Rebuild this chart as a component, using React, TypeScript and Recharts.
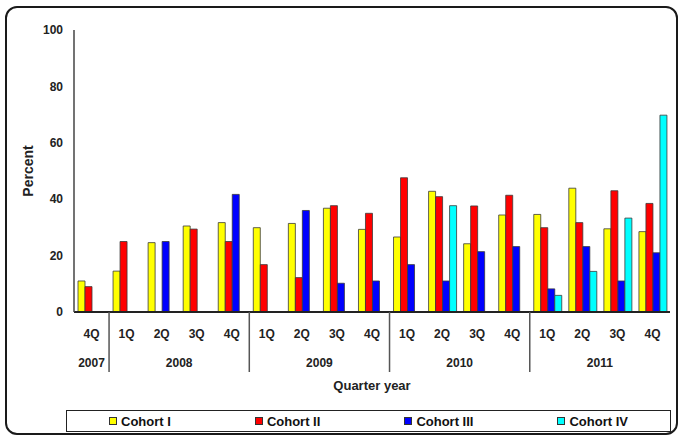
import React from 'react';
import { BarChart, Bar, XAxis, YAxis } from 'recharts';

// quarter / year of each category, left to right
const quarters = ['4Q', '1Q', '2Q', '3Q', '4Q', '1Q', '2Q', '3Q', '4Q', '1Q', '2Q', '3Q', '4Q', '1Q', '2Q', '3Q', '4Q'];
const categoryYears = ['2007', '2008', '2008', '2008', '2008', '2009', '2009', '2009', '2009', '2010', '2010', '2010', '2010', '2011', '2011', '2011', '2011'];

// percent per cohort (null = no bar)
const cohortI = [11, 14.5, 24.6, 30.5, 31.7, 29.9, 31.4, 36.8, 29.3, 26.6, 42.8, 24.2, 34.4, 34.6, 43.9, 29.5, 28.5];
const cohortII = [9, 25, null, 29.4, 25, 16.8, 12.2, 37.7, 35, 47.6, 40.9, 37.6, 41.4, 29.9, 31.7, 43, 38.5];
const cohortIII = [null, null, 25, null, 41.7, null, 36, 10.2, 11, 16.8, 11, 21.4, 23.2, 8.2, 23.2, 11, 21];
const cohortIV = [null, null, null, null, null, null, null, null, null, null, 37.7, null, null, 5.9, 14.4, 33.3, 69.8];

const yTicks = [0, 20, 40, 60, 80, 100];

const series = [
  { key: 'c1', name: 'Cohort I', color: '#FFFF00', values: cohortI },
  { key: 'c2', name: 'Cohort II', color: '#FF0000', values: cohortII },
  { key: 'c3', name: 'Cohort III', color: '#0000FF', values: cohortIII },
  { key: 'c4', name: 'Cohort IV', color: '#00FFFF', values: cohortIV },
];

const data = quarters.map((q, i) => {
  const row: any = { id: `${q} ${categoryYears[i]}` };
  series.forEach(s => { row[s.key] = s.values[i]; });
  return row;
});

const W = 678;
const H = 437;
const MARGIN = { top: 30, right: 8, left: 10, bottom: 45 };
const Y_AXIS_W = 64;
const BAND = (W - MARGIN.left - MARGIN.right - Y_AXIS_W) / quarters.length;
const FONT = '"Liberation Sans", Arial, sans-serif';

const QuarterTick = (props: any) => {
  const { x, y, payload } = props;
  const i = payload?.index ?? props.index;
  const year = categoryYears[i];
  const first = categoryYears.indexOf(year);
  const last = categoryYears.lastIndexOf(year);
  const mid = (first + last) / 2;
  const axisY = y - 8;
  return (
    <g>
      <text x={x} y={axisY + 26} textAnchor="middle" fontSize={12} fontWeight="bold" fill="#222">
        {quarters[i]}
      </text>
      {i === Math.floor(mid) && (
        <text x={x + (mid - i) * BAND} y={axisY + 55} textAnchor="middle" fontSize={12} fontWeight="bold" fill="#222">
          {year}
        </text>
      )}
      {i === first && i > 0 && (
        <line x1={x - BAND / 2} x2={x - BAND / 2} y1={axisY} y2={axisY + 60} stroke="#555" strokeWidth={1.5} />
      )}
    </g>
  );
};

export default function App() {
  return (
    <div style={{ position: 'absolute', left: 0, top: 0, width: W, height: H, background: '#fff', fontFamily: FONT }}>
      <div
        style={{
          position: 'absolute', left: 5, top: 6, width: 673, height: 429, boxSizing: 'border-box',
          border: '2px solid #1a1a1a', borderRadius: 12,
        }}
      />
      <div style={{ position: 'absolute', left: 0, top: 0 }}>
        <BarChart width={W} height={H} data={data} margin={MARGIN} barGap={0} barSize={7} style={{ fontFamily: FONT }}>
          <XAxis
            dataKey="id"
            interval={0}
            height={80}
            tickLine={false}
            axisLine={{ stroke: '#222', strokeWidth: 2 }}
            tick={<QuarterTick />}
            label={{ value: 'Quarter year', position: 'insideBottom', offset: 2, fill: '#222', fontSize: 13, fontWeight: 'bold' }}
          />
          <YAxis
            domain={[0, 100]}
            ticks={yTicks}
            width={Y_AXIS_W}
            tickLine={false}
            tickMargin={5}
            axisLine={{ stroke: '#444', strokeWidth: 1.5 }}
            tick={{ fill: '#222', fontSize: 12, fontWeight: 'bold' }}
            label={{ value: 'Percent', angle: -90, position: 'insideLeft', offset: 18, fill: '#222', fontSize: 14, fontWeight: 'bold', style: { textAnchor: 'middle' } }}
          />
          {series.map(s => (
            <Bar key={s.key} dataKey={s.key} name={s.name} fill={s.color} stroke="#3a3a3a" strokeWidth={0.8} isAnimationActive={false} />
          ))}
        </BarChart>
      </div>
      <div
        style={{
          position: 'absolute', left: 66, top: 410, width: 605, height: 22, boxSizing: 'border-box',
          border: '1.5px solid #222', display: 'flex', justifyContent: 'space-around', alignItems: 'center',
          fontSize: 13, fontWeight: 'bold', color: '#111',
        }}
      >
        {series.map(s => (
          <div key={s.key} style={{ display: 'flex', alignItems: 'center' }}>
            <span style={{ display: 'inline-block', width: 6, height: 6, background: s.color, border: '1px solid #333', marginRight: 4 }} />
            <span>{s.name}</span>
          </div>
        ))}
      </div>
    </div>
  );
}
